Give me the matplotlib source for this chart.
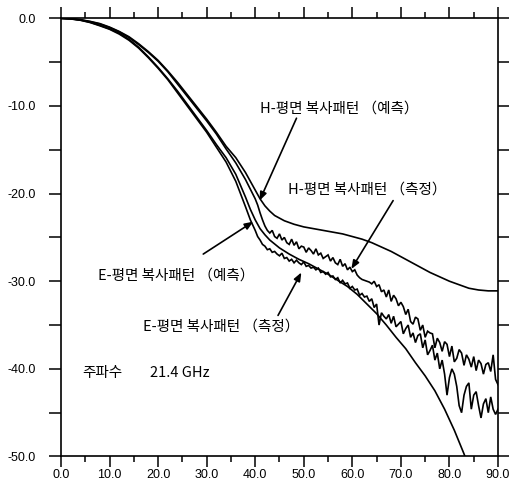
import matplotlib
matplotlib.use("Agg")
import matplotlib.pyplot as plt
from matplotlib.ticker import MultipleLocator

plt.rcParams["font.family"] = ["Noto Sans CJK KR", "DejaVu Sans"]

# H-plane, predicted (smooth)
h_pred_x = [0, 2, 4, 6, 8, 10, 12, 14, 16, 18, 20, 22, 24, 26, 28, 30, 32, 34,
            36, 38, 39, 40, 41, 42, 43, 44, 45, 46, 48, 50, 52, 54, 56, 58, 60,
            62, 64, 66, 68, 70, 72, 74, 76, 78, 80, 82, 84, 86, 88, 90]
h_pred_y = [0, -0.05, -0.15, -0.35, -0.6, -1.0, -1.5, -2.1, -2.9, -3.8, -4.8,
            -6.0, -7.3, -8.7, -10.1, -11.5, -13.0, -14.6, -15.9, -17.6, -18.6,
            -19.6, -20.6, -21.4, -22.0, -22.5, -22.8, -23.1, -23.5, -23.8, -24.0,
            -24.2, -24.4, -24.6, -24.9, -25.2, -25.6, -26.1, -26.6, -27.2, -27.8,
            -28.4, -29.0, -29.5, -30.0, -30.4, -30.8, -31.0, -31.1, -31.1]

# E-plane, predicted (smooth)
e_pred_x = [0, 2, 4, 6, 8, 10, 12, 14, 16, 18, 20, 22, 24, 26, 28, 30, 32, 34,
            36, 38, 39, 40, 41, 42, 43, 45, 47, 49, 51, 53, 55, 57, 59, 61, 63,
            65, 67, 69, 71, 73, 75, 77, 79, 81, 83, 84]
e_pred_y = [0, -0.06, -0.2, -0.45, -0.8, -1.2, -1.7, -2.4, -3.3, -4.4, -5.6,
            -6.9, -8.3, -9.8, -11.3, -12.8, -14.4, -15.9, -17.8, -20.4, -21.8,
            -23.0, -24.0, -24.7, -25.3, -26.2, -26.9, -27.5, -28.0, -28.6, -29.2,
            -29.9, -30.6, -31.5, -32.6, -33.7, -35.0, -36.4, -37.7, -39.3, -40.8,
            -42.5, -44.6, -47.0, -49.7, -51.2]

# measured curves: smooth start, then sampled every 0.5 deg from 40 to 90
meas_x_start = [0, 2, 4, 6, 8, 10, 12, 14, 16, 18, 20, 22, 24, 26, 28, 30, 32,
                34, 36, 38, 39]
meas_x_tail = [40.0, 40.5, 41.0, 41.5, 42.0, 42.5, 43.0, 43.5, 44.0, 44.5,
               45.0, 45.5, 46.0, 46.5, 47.0, 47.5, 48.0, 48.5, 49.0, 49.5,
               50.0, 50.5, 51.0, 51.5, 52.0, 52.5, 53.0, 53.5, 54.0, 54.5,
               55.0, 55.5, 56.0, 56.5, 57.0, 57.5, 58.0, 58.5, 59.0, 59.5,
               60.0, 60.5, 61.0, 61.5, 62.0, 62.5, 63.0, 63.5, 64.0, 64.5,
               65.0, 65.5, 66.0, 66.5, 67.0, 67.5, 68.0, 68.5, 69.0, 69.5,
               70.0, 70.5, 71.0, 71.5, 72.0, 72.5, 73.0, 73.5, 74.0, 74.5,
               75.0, 75.5, 76.0, 76.5, 77.0, 77.5, 78.0, 78.5, 79.0, 79.5,
               80.0, 80.5, 81.0, 81.5, 82.0, 82.5, 83.0, 83.5, 84.0, 84.5,
               85.0, 85.5, 86.0, 86.5, 87.0, 87.5, 88.0, 88.5, 89.0, 89.5,
               90.0]

h_meas_start = [0, -0.05, -0.17, -0.38, -0.65, -1.05, -1.55, -2.2, -3.0, -3.9,
                -4.9, -6.1, -7.5, -8.9, -10.3, -11.7, -13.2, -14.9, -16.5, -18.4,
                -19.5]
h_meas_tail = [-20.6, -21.3, -22.2, -23.0, -23.7, -24.2, -24.5, -24.2, -24.9, -25.1,
               -24.6, -25.3, -25.0, -25.6, -25.8, -25.2, -25.9, -25.5, -26.3, -26.0,
               -26.1, -26.7, -26.2, -26.5, -26.9, -26.3, -27.0, -26.8, -27.4, -27.2,
               -27.0, -27.7, -27.3, -27.9, -28.1, -27.5, -28.3, -28.0, -28.7, -28.4,
               -28.9, -28.7, -29.3, -29.6, -29.8, -29.9, -30.0, -30.1, -30.3, -30.0,
               -30.6, -30.4, -31.2, -31.0, -31.8, -31.0, -32.3, -31.6, -32.0, -32.8,
               -32.4, -32.9, -33.8, -33.2, -34.6, -34.9, -34.1, -34.3, -35.6, -35.0,
               -36.4, -35.7, -35.9, -36.0, -37.6, -36.5, -37.0, -38.0, -36.9, -37.2,
               -38.6, -37.4, -39.2, -38.8, -37.8, -38.2, -39.6, -38.4, -38.9, -39.8,
               -38.6, -40.2, -39.0, -39.4, -40.6, -39.5, -39.3, -40.3, -38.4, -41.2,
               -41.8]

e_meas_start = [0, -0.07, -0.22, -0.48, -0.85, -1.25, -1.8, -2.5, -3.4, -4.5,
                -5.7, -7.0, -8.5, -10.0, -11.5, -13.0, -14.7, -16.4, -18.6, -21.5,
                -23.0]
e_meas_tail = [-24.2, -24.9, -25.3, -25.8, -26.0, -26.4, -26.3, -26.7, -26.6, -26.9,
               -27.1, -26.8, -27.4, -27.3, -27.7, -27.5, -27.9, -27.6, -27.9, -28.1,
               -27.8, -28.3, -28.2, -28.5, -28.4, -28.7, -28.5, -29.0, -28.9, -29.2,
               -29.0, -29.5, -29.4, -29.8, -29.6, -30.2, -29.9, -30.3, -30.2, -30.8,
               -30.6, -31.0, -30.9, -31.6, -31.4, -31.8, -31.7, -32.3, -32.0, -33.0,
               -32.6, -35.0, -33.6, -34.0, -34.3, -33.8, -34.8, -34.0, -35.2, -34.9,
               -34.6, -36.0, -35.4, -35.0, -36.4, -35.9, -37.0, -36.2, -36.0, -37.6,
               -36.7, -38.4, -37.9, -37.3, -39.0, -38.2, -40.0, -39.0, -40.6, -43.0,
               -41.0, -40.0, -40.6, -42.0, -44.2, -45.0, -43.0, -42.0, -41.6, -44.6,
               -43.0, -42.6, -44.2, -45.6, -44.0, -43.4, -45.0, -43.2, -44.6, -45.2,
               -44.6]

labels = ["H-평면 복사패턴 （예측）", "H-평면 복사패턴 （측정）",
          "E-평면 복사패턴 （예측）", "E-평면 복사패턴 （측정）"]
label_xy = [(57.4, -10.3), (63.0, -19.6), (23.7, -29.4), (33.0, -35.2)]
arrow_tip = [(40.9, -20.8), (59.8, -28.6), (39.6, -23.2), (49.5, -29.0)]
arrow_tail = [(48.5, -11.4), (68.4, -20.8), (29.3, -26.9), (44.7, -33.9)]

freq_label = "주파수"
freq_value = "21.4 GHz"

fig = plt.figure(figsize=(5.09, 4.86), dpi=100)
ax = fig.add_axes([0.1198, 0.0607, 0.8586, 0.9016])

kw = dict(color="black", lw=1.2, solid_joinstyle="miter")
ax.plot(h_pred_x, h_pred_y, **kw)
ax.plot(e_pred_x, e_pred_y, **kw)
ax.plot(meas_x_start + meas_x_tail, h_meas_start + h_meas_tail, **kw)
ax.plot(meas_x_start + meas_x_tail, e_meas_start + e_meas_tail, **kw)

for txt, pos, tip, tail in zip(labels, label_xy, arrow_tip, arrow_tail):
    ax.text(pos[0], pos[1], txt, ha="center", va="center", fontsize=10.5)
    ax.annotate("", xy=tip, xytext=tail,
                arrowprops=dict(arrowstyle="-|>,head_length=0.5,head_width=0.2",
                                color="black", lw=1.2, shrinkA=0, shrinkB=0))

ax.text(4.3, -40.5, freq_label, ha="left", va="center", fontsize=10.5)
ax.text(18.3, -40.5, freq_value, ha="left", va="center", fontsize=10.5)

ax.set_xlim(0, 90)
ax.set_ylim(-50, 0)
ax.xaxis.set_major_locator(MultipleLocator(10))
ax.xaxis.set_minor_locator(MultipleLocator(5))
ax.yaxis.set_major_locator(MultipleLocator(10))
ax.yaxis.set_minor_locator(MultipleLocator(5))
ax.set_xticklabels([f"{v:.1f}" for v in ax.get_xticks()])
ax.set_yticklabels([f"{v:.1f}" for v in ax.get_yticks()])

ax.tick_params(which="both", direction="out", top=True, right=True,
               width=1.1, colors="black", labelsize=9)
ax.tick_params(axis="x", which="major", length=8, pad=1)
ax.tick_params(axis="x", which="minor", length=4)
ax.tick_params(axis="y", which="both", length=9, pad=9)
for lab in ax.get_xticklabels() + ax.get_yticklabels():
    lab.set_family(["Liberation Sans", "DejaVu Sans"])
for sp in ax.spines.values():
    sp.set_linewidth(1.2)

fig.savefig("out.png", dpi=100)
